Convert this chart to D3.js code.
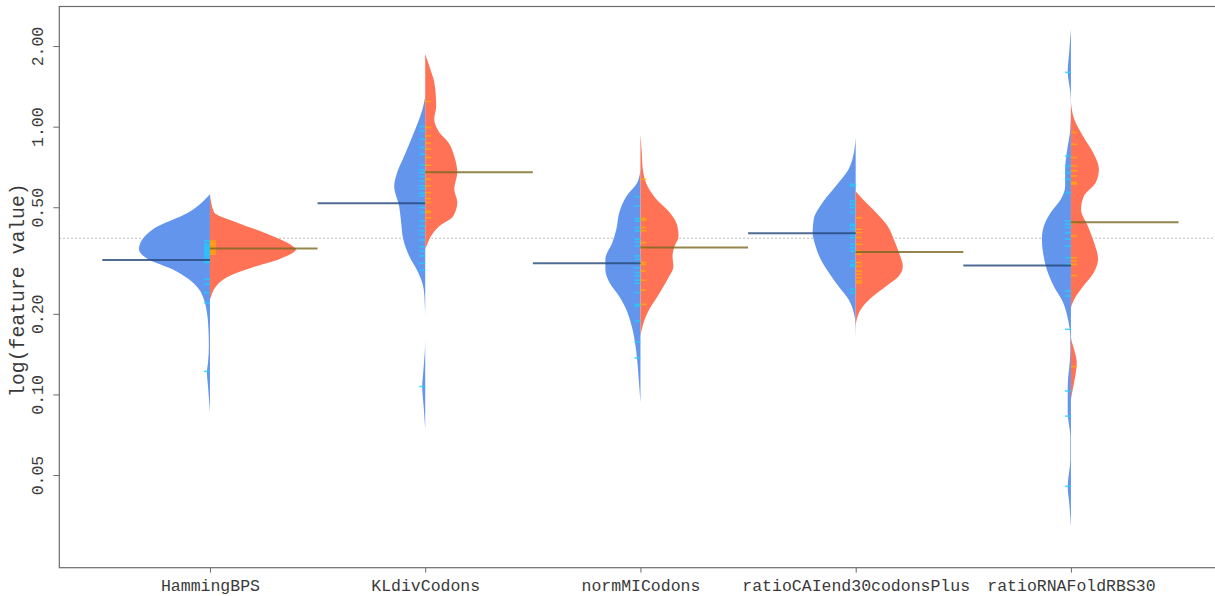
<!DOCTYPE html>
<html>
<head>
<meta charset="utf-8">
<script src="https://cdn.jsdelivr.net/npm/d3@7"></script>
<style>
  html, body { margin: 0; padding: 0; background: #fff; }
  svg { display: block; }
</style>
</head>
<body>
<script>
// Categories and per-group summaries
const categories = ["HammingBPS", "KLdivCodons", "normMICodons", "ratioCAIend30codonsPlus", "ratioRNAFoldRBS30"];
const meanBlue   = [0.318, 0.518, 0.309, 0.400, 0.303];
const meanOrange = [0.351, 0.676, 0.354, 0.340, 0.440];
const overallMean = 0.383;
const yTicks = [0.05, 0.10, 0.20, 0.50, 1.00, 2.00];

// Half-bean density outlines: [value, half width in category units]
const densityBlue = [
  [[0.559,0],[0.479,0.098],[0.414,0.265],[0.349,0.33],[0.320,0.288],[0.293,0.172],[0.269,0.098],[0.247,0.051],[0.226,0.028],[0.202,0.014],[0.175,0.007],[0.151,0.005],[0.132,0.009],[0.121,0.014],[0.107,0.009],[0.0855,0]],
  [[1.30,0],[1.193,0.009],[1.04,0.033],[0.898,0.065],[0.776,0.098],[0.676,0.13],[0.599,0.144],[0.504,0.121],[0.440,0.112],[0.380,0.102],[0.328,0.074],[0.286,0.033],[0.247,0.007],[0.213,0.0015],[0.196,0],[0.160,0],[0.121,0.009],[0.107,0.014],[0.090,0.007],[0.074,0]],
  [[0.694,0],[0.620,0.014],[0.550,0.065],[0.479,0.098],[0.414,0.112],[0.370,0.13],[0.320,0.163],[0.293,0.163],[0.262,0.144],[0.232,0.098],[0.202,0.06],[0.175,0.037],[0.1436,0.019],[0.117,0.009],[0.093,0]],
  [[0.914,0],[0.803,0.008],[0.694,0.033],[0.599,0.093],[0.522,0.153],[0.451,0.195],[0.403,0.2],[0.357,0.186],[0.320,0.163],[0.286,0.126],[0.253,0.079],[0.226,0.033],[0.202,0.009],[0.186,0.002],[0.160,0]],
  [[2.316,0],[1.90,0.008],[1.599,0.015],[1.346,0.003],[1.193,0],[0.979,0.003],[0.803,0.019],[0.694,0.027],[0.599,0.027],[0.536,0.047],[0.479,0.093],[0.425,0.126],[0.380,0.135],[0.340,0.13],[0.293,0.112],[0.253,0.079],[0.221,0.037],[0.191,0.014],[0.165,0.003],[0.1436,0.003],[0.107,0.015],[0.0856,0.015],[0.0696,0.003],[0.0571,0.003],[0.0452,0.015],[0.0394,0.008],[0.0320,0]]
];
const densityOrange = [
  [[0.559,0],[0.479,0.019],[0.440,0.121],[0.403,0.247],[0.357,0.386],[0.349,0.40],[0.320,0.321],[0.301,0.214],[0.276,0.088],[0.253,0.028],[0.232,0.005],[0.226,0]],
  [[1.867,0],[1.599,0.028],[1.467,0.042],[1.193,0.051],[1.067,0.042],[0.954,0.065],[0.875,0.107],[0.776,0.135],[0.676,0.149],[0.584,0.135],[0.522,0.149],[0.463,0.13],[0.425,0.065],[0.380,0.019],[0.357,0.005],[0.349,0]],
  [[0.937,0],[0.803,0.006],[0.694,0.011],[0.599,0.033],[0.536,0.074],[0.479,0.135],[0.425,0.172],[0.389,0.177],[0.357,0.158],[0.328,0.149],[0.301,0.153],[0.269,0.126],[0.232,0.079],[0.202,0.033],[0.179,0.009],[0.165,0]],
  [[0.574,0],[0.536,0.033],[0.479,0.093],[0.425,0.149],[0.380,0.177],[0.340,0.2],[0.301,0.219],[0.276,0.2],[0.253,0.14],[0.232,0.079],[0.213,0.033],[0.196,0.009],[0.179,0]],
  [[1.235,0],[1.067,0.015],[0.921,0.056],[0.803,0.102],[0.694,0.13],[0.620,0.116],[0.550,0.06],[0.491,0.047],[0.425,0.079],[0.370,0.107],[0.320,0.126],[0.286,0.107],[0.253,0.056],[0.226,0.015],[0.208,0],[0.165,0],[0.147,0.015],[0.132,0.027],[0.117,0.02],[0.104,0.008],[0.0957,0]]
];

// Individual observations (bean lines)
const rugBlue = [
  [0.374,0.364,0.358,0.353,0.348,0.343,0.339,0.334,0.329,0.324,0.315,0.311,0.269,0.258,0.240,0.220,0.122],
  [1.002,0.964,0.898,0.836,0.789,0.718,0.690,0.674,0.651,0.627,0.601,0.587,0.564,0.551,0.521,0.499,0.478,0.444,0.426,0.408,0.396,0.377,0.356,0.343,0.329,0.309,0.291,0.107],
  [0.548,0.506,0.454,0.444,0.420,0.408,0.380,0.371,0.358,0.329,0.320,0.309,0.297,0.285,0.277,0.267,0.260,0.240,0.217,0.214,0.188,0.157,0.137],
  [0.609,0.601,0.528,0.513,0.499,0.478,0.432,0.426,0.414,0.396,0.385,0.364,0.353,0.343,0.315,0.306,0.301,0.247,0.240],
  [1.595,0.778,0.713,0.674,0.636,0.567,0.444,0.432,0.420,0.402,0.380,0.358,0.324,0.306,0.243,0.233,0.175,0.103,0.083,0.0454]
];
const rugOrange = [
  [0.374,0.368,0.364,0.358,0.353,0.348,0.343,0.339,0.334],
  [1.242,0.993,0.924,0.868,0.824,0.767,0.718,0.674,0.636,0.601,0.567,0.539,0.521,0.484,0.478,0.457],
  [0.636,0.454,0.448,0.420,0.408,0.369,0.353,0.311,0.306,0.289,0.267,0.245,0.217],
  [0.457,0.414,0.402,0.385,0.364,0.343,0.334,0.311,0.301,0.289,0.281,0.273,0.265,0.261],
  [0.952,0.860,0.767,0.713,0.684,0.654,0.619,0.611,0.438,0.391,0.324,0.315,0.306,0.278,0.127]
];

const width = 1215, height = 596;
const margin = { left: 59.3, top: 6.5, bottom: 28.3 };
const plotRight = 1221.6; // box runs slightly past the window edge

const colors = {
  blue: "#6495ED",
  orange: "#FF7256",
  rugBlue: "#19d4ff",
  rugOrange: "#ffb000",
  lineBlue: "#24487a",
  lineOrange: "#7a6820",
  axis: "#6b6b6b",
  text: "#3a3a3a"
};
const font = "'Liberation Mono', 'DejaVu Sans Mono', monospace";

const svg = d3.select("body").append("svg")
  .attr("width", width)
  .attr("height", height)
  .attr("viewBox", [0, 0, width, height]);

// Scales: R-style 4% padded ranges
const x = d3.scaleLinear()
  .domain([0.3, categories.length + 0.7])
  .range([margin.left, plotRight]);

const y = d3.scaleLog()
  .domain([0.02254, 2.81])
  .range([height - margin.bottom, margin.top]);

const bw = x(1) - x(0); // one category unit in px

// Overall mean line (behind beans)
svg.append("line")
  .attr("x1", margin.left).attr("x2", plotRight)
  .attr("y1", y(overallMean)).attr("y2", y(overallMean))
  .attr("stroke", "#a8a8a8")
  .attr("stroke-width", 1)
  .attr("stroke-dasharray", "1.5,2.5");

// Beans
const area = side => d3.area()
  .y(d => y(d[0]))
  .x0(0)
  .x1(d => side * d[1] * bw)
  .curve(d3.curveMonotoneY);

const beans = svg.append("g").selectAll("g")
  .data(categories)
  .join("g")
  .attr("transform", (d, i) => `translate(${x(i + 1)},0)`);

beans.append("path")
  .attr("d", (d, i) => area(-1)(densityBlue[i]))
  .attr("fill", colors.blue);

beans.append("path")
  .attr("d", (d, i) => area(1)(densityOrange[i]))
  .attr("fill", colors.orange);

// Bean lines for each observation
beans.each(function(d, i) {
  const g = d3.select(this);
  g.selectAll(".rb")
    .data(rugBlue[i])
    .join("line")
    .attr("class", "rb")
    .attr("x1", -0.028 * bw).attr("x2", 0)
    .attr("y1", v => y(v)).attr("y2", v => y(v))
    .attr("stroke", colors.rugBlue)
    .attr("stroke-width", 1.6)
    .attr("opacity", 0.75);
  g.selectAll(".ro")
    .data(rugOrange[i])
    .join("line")
    .attr("class", "ro")
    .attr("x1", 0).attr("x2", 0.028 * bw)
    .attr("y1", v => y(v)).attr("y2", v => y(v))
    .attr("stroke", colors.rugOrange)
    .attr("stroke-width", 1.6)
    .attr("opacity", 0.75);
});

// Group mean lines
beans.append("line")
  .attr("x1", -0.5 * bw).attr("x2", 0)
  .attr("y1", (d, i) => y(meanBlue[i])).attr("y2", (d, i) => y(meanBlue[i]))
  .attr("stroke", colors.lineBlue)
  .attr("stroke-width", 2)
  .attr("opacity", 0.8);

beans.append("line")
  .attr("x1", 0).attr("x2", 0.5 * bw)
  .attr("y1", (d, i) => y(meanOrange[i])).attr("y2", (d, i) => y(meanOrange[i]))
  .attr("stroke", colors.lineOrange)
  .attr("stroke-width", 2)
  .attr("opacity", 0.8);

// Box
svg.append("rect")
  .attr("x", margin.left).attr("y", margin.top)
  .attr("width", plotRight - margin.left)
  .attr("height", y.range()[0] - margin.top)
  .attr("fill", "none")
  .attr("stroke", colors.axis)
  .attr("stroke-width", 1.2);

// Y axis (vertical labels as in R)
const yAxis = svg.append("g")
  .attr("transform", `translate(${margin.left},0)`)
  .call(d3.axisLeft(y).tickValues(yTicks).tickFormat(d3.format(".2f")).tickSize(6).tickPadding(0));
yAxis.select(".domain").remove();
yAxis.selectAll(".tick line").attr("stroke", colors.axis);
yAxis.selectAll(".tick text")
  .attr("x", 0)
  .attr("dy", 0)
  .attr("transform", "translate(-21,0) rotate(-90)")
  .attr("text-anchor", "middle")
  .attr("dominant-baseline", "central")
  .attr("fill", colors.text)
  .style("font-family", font)
  .style("font-size", "16.5px");

// X axis
const xAxis = svg.append("g")
  .attr("transform", `translate(0,${y.range()[0]})`)
  .call(d3.axisBottom(x).tickValues(d3.range(1, categories.length + 1))
    .tickFormat(i => categories[i - 1]).tickSize(5).tickPadding(7));
xAxis.select(".domain").remove();
xAxis.selectAll(".tick line").attr("stroke", colors.axis);
xAxis.selectAll(".tick text")
  .attr("fill", colors.text)
  .style("font-family", font)
  .style("font-size", "16.5px");

// Y label
svg.append("text")
  .attr("transform", `translate(19,${(margin.top + y.range()[0]) / 2 + 3}) rotate(-90)`)
  .attr("text-anchor", "middle")
  .attr("dominant-baseline", "central")
  .attr("fill", colors.text)
  .style("font-family", font)
  .style("font-size", "19.8px")
  .text("log(feature value)");
</script>
</body>
</html>
